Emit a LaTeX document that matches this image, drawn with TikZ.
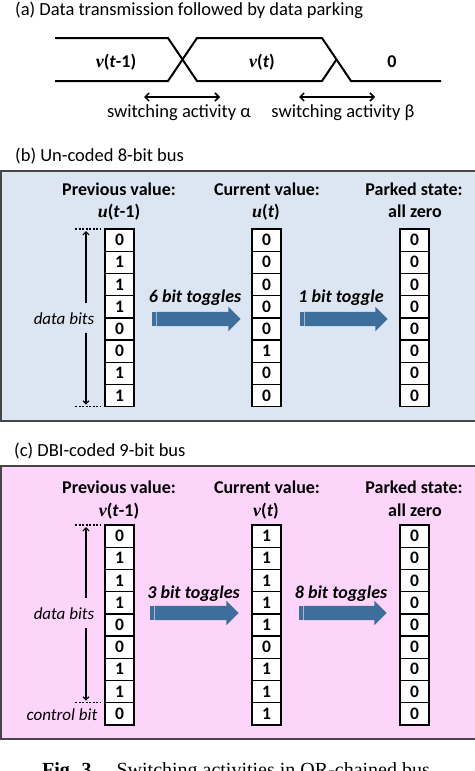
\documentclass[tikz,border=0pt]{standalone}
\usepackage{fontspec}
\setmainfont{Carlito}
\newfontfamily\timesfont{Liberation Serif}
\usetikzlibrary{arrows.meta, positioning, calc, shapes.arrows}

\definecolor{busblue}{RGB}{220,230,242}
\definecolor{buspink}{RGB}{253,212,250}
\definecolor{framegray}{RGB}{70,70,70}
\definecolor{toggleblue}{RGB}{62,110,156}

\newcommand{\sv}[1]{{\timesfont\itshape #1}}
\newcommand{\fs}{\fontsize{17}{20}\selectfont}
\newcommand{\fb}{\fontsize{18}{21}\selectfont}
\newcommand{\ft}{\fontsize{18.5}{22}\selectfont}

\begin{document}
\begin{tikzpicture}[
  x=1pt, y=-1pt,
  every node/.style={font=\fs, inner sep=0pt},
  >=Stealth,
  lbl/.style={anchor=base, font=\ft},
  hdr/.style={anchor=base, font=\fb\bfseries},
  tgl/.style={anchor=base, font=\fb\bfseries\itshape},
  side/.style={anchor=base, font=\fs\itshape},
  wave/.style={line width=2pt},
  span/.style={{Straight Barb[length=4pt,width=8pt]}-{Straight Barb[length=4pt,width=8pt]}, line width=1.5pt},
  dbar/.style={-{Straight Barb[length=3pt,width=6pt]}, line width=1.2pt},
  dots/.style={line width=1.2pt, dash pattern=on 2pt off 1.5pt},
  bitcell/.style={draw, line width=1.4pt, fill=white, minimum width=29pt,
    minimum height=22.2pt, outer sep=0pt, font=\fontsize{17.5}{20}\selectfont\bfseries},
  toggle/.style={single arrow, fill=toggleblue, minimum height=84pt,
    minimum width=24pt, inner xsep=0pt, inner ysep=7pt,
    single arrow head extend=5pt},
  panel/.style={draw=framegray, line width=2pt}
]
\useasboundingbox (0,0) rectangle (474,771);

% (a) waveform
\node[lbl, anchor=base west] (ta) at (15,16) {(a) Data transmission followed by data parking};
\draw[wave] (55,38) -- (168,38) -- (197,81) -- (322,81) -- (336.5,59.5);
\draw[wave] (55,81) -- (168,81) -- (197,38) -- (322,38) -- (351,81) -- (441,81);
\node[hdr] (vprev) at (116,67) {\sv{v}(\textit{t}-1)};
\node[hdr] (vcur) at (262,67) {\sv{v}(\textit{t})};
\node[hdr] (vzero) at (392,67) {0};
\coordinate (al) at (144,97);
\coordinate (ar) at (220,97);
\coordinate (bl) at (299,97);
\coordinate (br) at (375,97);
\draw[span] (al) -- (ar);
\draw[span] (bl) -- (br);
\node[lbl] (sa) at (179,117) {switching activity α};
\node[lbl] (sb) at (343,117) {switching activity β};

% (b) un-coded bus
\node[lbl, anchor=base west] (tb) at (15,161) {(b) Un-coded 8-bit bus};
\draw[panel, fill=busblue] (1,171) rectangle (478,421);
\node[hdr] (bph) at (119,195) {Previous value:};
\node[hdr] (bpv) at (119,217) {\sv{u}(\textit{t}-1)};
\node[hdr] (bch) at (267,195) {Current value:};
\node[hdr] (bcv) at (266,217) {\sv{u}(\textit{t})};
\node[hdr] (bzh) at (414,195) {Parked state:};
\node[hdr] (bzv) at (415,217) {all zero};
\foreach \b [count=\i] in {0,1,1,1,0,0,1,1}
  \node[bitcell] (bp\i) at (119.5,{229+22.2*(\i-0.5)}) {\b};
\foreach \b [count=\i] in {0,0,0,0,0,1,0,0}
  \node[bitcell] (bc\i) at (266.5,{229+22.2*(\i-0.5)}) {\b};
\foreach \b [count=\i] in {0,0,0,0,0,0,0,0}
  \node[bitcell] (bz\i) at (414.5,{229+22.2*(\i-0.5)}) {\b};
\draw[dots] ($(bp1.north west)+(-30,0)$) -- ($(bp1.north west)+(-5,0)$);
\draw[dots] ($(bp8.south west)+(-30,0)$) -- ($(bp8.south west)+(-5,0)$);
\node[side] (bdata) at (64,324) {data bits};
\coordinate (bu1) at ($(bp1.north west)+(-19,2)$);
\coordinate (bu2) at (bu1 |- 0,303);
\coordinate (bd1) at (bu1 |- 0,333);
\coordinate (bd2) at ($(bp8.south west)+(-19,-2)$);
\draw[dbar] (bu2) -- (bu1);
\draw[dbar] (bd1) -- (bd2);
\node[toggle] (bt1) at (195,319) {};
\node[toggle, minimum height=83pt] (bt2) at (342.5,319) {};
\foreach \t in {bt1,bt2} {
  \fill[toggleblue] ($(\t.tail)+(-4,-7)$) rectangle ++(1.2,14);
  \fill[toggleblue] ($(\t.tail)+(-2,-7)$) rectangle ++(1.2,14);
}
\node[tgl] (bl1) at (195,302) {6 bit toggles};
\node[tgl] (bl2) at (341,302) {1 bit toggle};

% (c) DBI-coded bus
\node[lbl, anchor=base west] (tc) at (14,456) {(c) DBI-coded 9-bit bus};
\draw[panel, fill=buspink] (1,466) rectangle (478,739);
\node[hdr] (cph) at (119,493) {Previous value:};
\node[hdr] (cpv) at (119,516) {\sv{v}(\textit{t}-1)};
\node[hdr] (cch) at (267,493) {Current value:};
\node[hdr] (ccv) at (266,516) {\sv{v}(\textit{t})};
\node[hdr] (czh) at (414,493) {Parked state:};
\node[hdr] (czv) at (415,516) {all zero};
\foreach \b [count=\i] in {0,1,1,1,0,0,1,1,0}
  \node[bitcell] (cp\i) at (119.5,{525+22.2*(\i-0.5)}) {\b};
\foreach \b [count=\i] in {1,1,1,1,1,0,1,1,1}
  \node[bitcell] (cc\i) at (266.5,{525+22.2*(\i-0.5)}) {\b};
\foreach \b [count=\i] in {0,0,0,0,0,0,0,0,0}
  \node[bitcell] (cz\i) at (414.5,{525+22.2*(\i-0.5)}) {\b};
\draw[dots] ($(cp1.north west)+(-30,0)$) -- ($(cp1.north west)+(-5,0)$);
\draw[dots] ($(cp8.south west)+(-30,0)$) -- ($(cp8.south west)+(-5,0)$);
\node[side] (cdata) at (64,619) {data bits};
\node[side] (cctl) at (62,720) {control bit};
\coordinate (cu1) at ($(cp1.north west)+(-19,2)$);
\coordinate (cu2) at (cu1 |- 0,598);
\coordinate (cd1) at (cu1 |- 0,628);
\coordinate (cd2) at ($(cp8.south west)+(-19,-2)$);
\draw[dbar] (cu2) -- (cu1);
\draw[dbar] (cd1) -- (cd2);
\node[toggle] (ct1) at (193,613) {};
\node[toggle, minimum height=83pt] (ct2) at (341.5,613) {};
\foreach \t in {ct1,ct2} {
  \fill[toggleblue] ($(\t.tail)+(-4,-7)$) rectangle ++(1.2,14);
  \fill[toggleblue] ($(\t.tail)+(-2,-7)$) rectangle ++(1.2,14);
}
\node[tgl] (cl1) at (193.5,598) {3 bit toggles};
\node[tgl] (cl2) at (341,598) {8 bit toggles};

% caption, cut by the page edge as in the figure
\node[anchor=base, font=\timesfont\fontsize{20}{24}\selectfont] (cap) at (236,776)
  {\textbf{Fig. 3.}\quad Switching activities in OR-chained bus};
\end{tikzpicture}
\end{document}
